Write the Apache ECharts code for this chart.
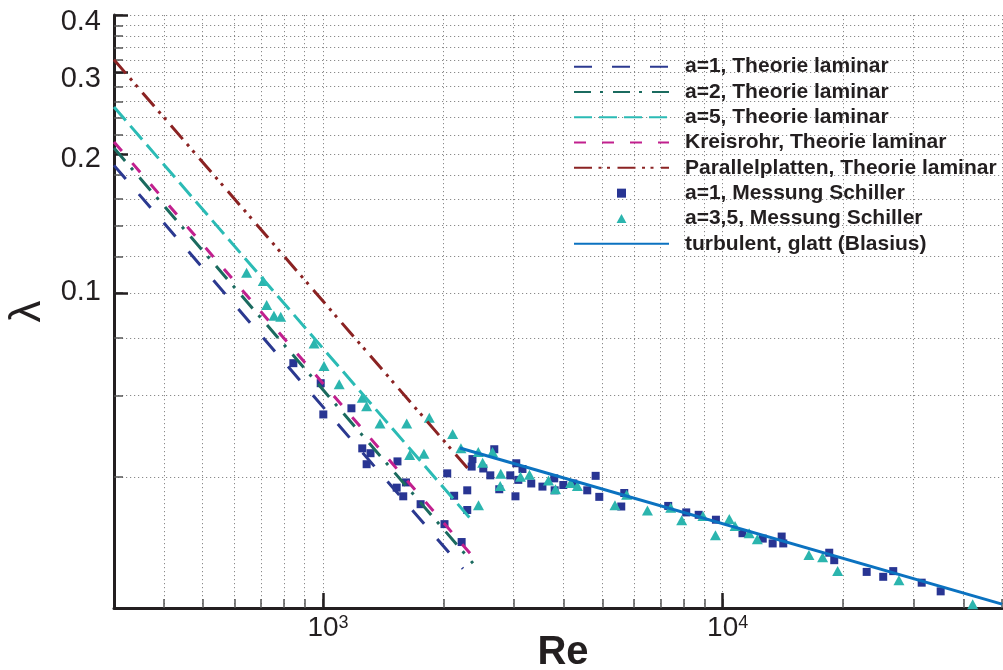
<!DOCTYPE html>
<html><head><meta charset="utf-8">
<script src="https://cdn.jsdelivr.net/npm/echarts@6.0.0/dist/echarts.min.js"></script>
<style>html,body{margin:0;padding:0;background:#fff}#c{width:1003px;height:670px}</style>
</head><body><div id="c"></div>
<script>
// ---- Data ----
const xMinorTicks = [400,500,600,700,800,900,1000,2000,3000,4000,5000,6000,7000,8000,9000,10000,20000,30000,40000,50000];
const xMajorTicks = [1000,10000];
const xTickLabels = [1000,10000];
const yMinorTicks = [0.04,0.06,0.08,0.1,0.12,0.14,0.16,0.18,0.2,0.22,0.24,0.26,0.28,0.3,0.32,0.34,0.36,0.38,0.4];
const yMajorTicks = [0.1,0.2,0.3,0.4];
const yTickLabels = [0.1,0.2,0.3,0.4];

// laminar theory lines (end points)
const lamA1 = [[300,0.189],[2240,0.0253]];
const lamA2 = [[300,0.206],[2373,0.0260]];
const lamA5 = [[300,0.2529],[2380,0.0319]];
const lamKreis = [[300,0.2124],[2387,0.0267]];
const lamPlatten = [[300,0.320],[2332,0.0412]];
const blasius = [[2200,0.0462],[50000,0.0212]];

// measurements a=1 (squares)
const sqRe = [843,987,1002,1178,1254,1315,1286,1536,1613,1529,1588,1755,2014,2223,2046,2129,2296,2296,2366,2355,2683,2518,2622,2761,2942,3045,3156,3081,3031,3320,3541,3790,3799,3993,4229,4584,4811,4913,5673,5576,7308,8107,8710,9620,11210,12600,13340,14050,14180,18480,19020,22930,25220,26720,31480,35120];
const sqLam = [0.0705,0.0638,0.0546,0.0563,0.0461,0.0450,0.0426,0.0432,0.0389,0.0379,0.0363,0.0349,0.0316,0.0289,0.0407,0.0364,0.0374,0.0339,0.0437,0.0421,0.0459,0.0417,0.0403,0.0376,0.0403,0.0428,0.0416,0.0394,0.0363,0.0387,0.0381,0.0397,0.0374,0.0384,0.0387,0.0374,0.0402,0.0362,0.0369,0.0345,0.0346,0.0335,0.0331,0.0323,0.0302,0.0294,0.0287,0.0297,0.0287,0.0274,0.0264,0.0249,0.0243,0.0250,0.0236,0.0226];
// measurements a=3,5 (triangles)
const trRe = [644,709,723,754,784,950,1006,1098,1254,1286,1845,1389,1620,2111,1648,1789,2214,2447,2656,2509,2785,2776,2450,3120,3286,3666,3817,4165,4331,5377,5752,6484,7414,7898,8927,9594,10390,10740,11650,12210,16440,17790,19400,27610,42230];
const trLam = [0.1107,0.1062,0.0942,0.0893,0.0889,0.0778,0.0695,0.0635,0.0593,0.0569,0.0537,0.0522,0.0522,0.0495,0.0446,0.0449,0.0461,0.0453,0.0453,0.0429,0.0406,0.0382,0.0347,0.0400,0.0404,0.0393,0.0376,0.0388,0.0382,0.0347,0.0366,0.0338,0.0343,0.0322,0.0329,0.0299,0.0324,0.0313,0.0302,0.0293,0.0271,0.0268,0.0250,0.0239,0.0212];

const names = ['a=1, Theorie laminar','a=2, Theorie laminar','a=5, Theorie laminar','Kreisrohr, Theorie laminar','Parallelplatten, Theorie laminar','a=1, Messung Schiller','a=3,5, Messung Schiller','turbulent, glatt (Blasius)'];

// ---- Chart ----
const FONT = '"Liberation Sans", Arial, Helvetica, sans-serif';
const INK = '#231f20';
const SQ = '#283593', TRI = '#2bb5ae';
const zip = (a,b) => a.map((v,i)=>[v,b[i]]);

const chart = echarts.init(document.getElementById('c'), null, {renderer:'canvas'});
const lineSeries = (name, data, color, dash) => ({
  name, type:'line', data, symbol:'none', showSymbol:false, xAxisIndex:0, yAxisIndex:0,
  lineStyle:{color, width:3, type:dash, cap:'butt'}, itemStyle:{color}, z:3, silent:true
});
const hideDot = {opacity:0};
const yLab = {fontFamily:FONT, fontSize:29, color:INK};

chart.setOption({
  animation:false,
  backgroundColor:'#fff',
  grid:{left:114, top:15, right:1, bottom:62, containLabel:false, outerBoundsMode:'none'},
  legend:{
    show:true, orient:'vertical', left:573, top:54, padding:0, itemWidth:95, itemHeight:9, itemGap:0,
    symbolKeepAspect:true, selectedMode:false,
    data:[
      {name:names[0], itemStyle:hideDot},
      {name:names[1], itemStyle:hideDot},
      {name:names[2], itemStyle:hideDot},
      {name:names[3], itemStyle:hideDot},
      {name:names[4], itemStyle:hideDot},
      {name:names[5], icon:'path://M0,0h10v10h-10z', itemStyle:{color:SQ, opacity:1}},
      {name:names[6], icon:'path://M5.5,0L11,10L0,10z', itemStyle:{color:TRI, opacity:1}},
      {name:names[7], itemStyle:hideDot}
    ],
    textStyle:{fontFamily:FONT, fontWeight:'bold', fontSize:21, color:INK, lineHeight:25.3, padding:[0,0,0,11]}
  },
  xAxis:[
    {type:'log', logBase:10, min:300, max:50000, position:'bottom', gridIndex:0,
     axisLine:{show:true, onZero:false, lineStyle:{color:INK, width:3}},
     axisTick:{show:true, inside:true, length:9, customValues:xMinorTicks, lineStyle:{color:'#555', width:1.5}},
     axisLabel:{show:true, customValues:xTickLabels, margin:6,
       formatter:v => '{b|10}{s|' + Math.round(Math.log10(v)) + '}',
       rich:{b:{fontSize:28, fontFamily:FONT, color:INK, padding:[0,0,0,10]},
             s:{fontSize:18, fontFamily:FONT, color:INK, verticalAlign:'top', padding:[0,0,8,0]}}},
     splitLine:{show:true, lineStyle:{color:'#8a8a8a', width:1, type:[1.2,2.8]}},
     minorTick:{show:false}, minorSplitLine:{show:false},
     name:'Re', nameLocation:'middle', nameGap:25, nameMoveOverlap:false,
     nameTextStyle:{fontFamily:FONT, fontWeight:'bold', fontSize:40, color:INK, padding:[0,0,0,10]}},
    {type:'log', logBase:10, min:300, max:50000, position:'bottom', gridIndex:0, offset:0,
     axisLine:{show:false}, axisLabel:{show:false}, splitLine:{show:false},
     axisTick:{show:true, inside:true, length:15, customValues:xMajorTicks, lineStyle:{color:INK, width:2.5}}}
  ],
  yAxis:[
    {type:'log', logBase:10, min:0.0208, max:0.4, position:'left', gridIndex:0,
     axisLine:{show:true, onZero:false, lineStyle:{color:INK, width:3}},
     axisTick:{show:true, inside:true, length:9, customValues:yMinorTicks, lineStyle:{color:'#555', width:1.5}},
     axisLabel:{show:true, customValues:yTickLabels, margin:13, fontFamily:FONT, fontSize:29, color:INK,
       formatter:v => { const t = Number(v).toFixed(1); return '{l' + t.replace('.', '') + '|' + t + '}'; },
       rich:{
         l04:Object.assign({padding:[14,0,0,0]}, yLab),
         l03:Object.assign({padding:[13,0,0,0]}, yLab),
         l02:Object.assign({padding:[10,0,0,0]}, yLab),
         l01:Object.assign({padding:[0,0,3,0]}, yLab)
       }},
     splitLine:{show:true, lineStyle:{color:'#8a8a8a', width:1, type:[1.2,2.8]}},
     minorTick:{show:false}, minorSplitLine:{show:false},
     name:'λ', nameLocation:'middle', nameGap:64, nameMoveOverlap:false,
     nameTextStyle:{fontFamily:FONT, fontSize:44, color:INK}},
    {type:'log', logBase:10, min:0.0208, max:0.4, position:'left', gridIndex:0, offset:0,
     axisLine:{show:false}, axisLabel:{show:false}, splitLine:{show:false},
     axisTick:{show:true, inside:true, length:14, customValues:yMajorTicks, lineStyle:{color:INK, width:2.5}}}
  ],
  series:[
    {name:names[5], type:'scatter', data:zip(sqRe, sqLam), symbol:'rect', symbolSize:8,
     itemStyle:{color:SQ, opacity:1}, z:2, silent:true},
    {name:names[6], type:'scatter', data:zip(trRe, trLam), symbol:'triangle', symbolSize:[11,10],
     itemStyle:{color:TRI, opacity:1}, z:2, silent:true},
    lineSeries(names[0], lamA1, '#2b3990', [18,20]),
    lineSeries(names[1], lamA2, '#1b6b5f', [17,9,3,10]),
    lineSeries(names[2], lamA5, '#2bbbb5', [18,7]),
    lineSeries(names[3], lamKreis, '#c1208e', [12,16]),
    lineSeries(names[4], lamPlatten, '#8b2323', [18,6.5,3,5.5,3,7.5]),
    lineSeries(names[7], blasius, '#0b72c0', 'solid')
  ]
});
</script></body></html>
